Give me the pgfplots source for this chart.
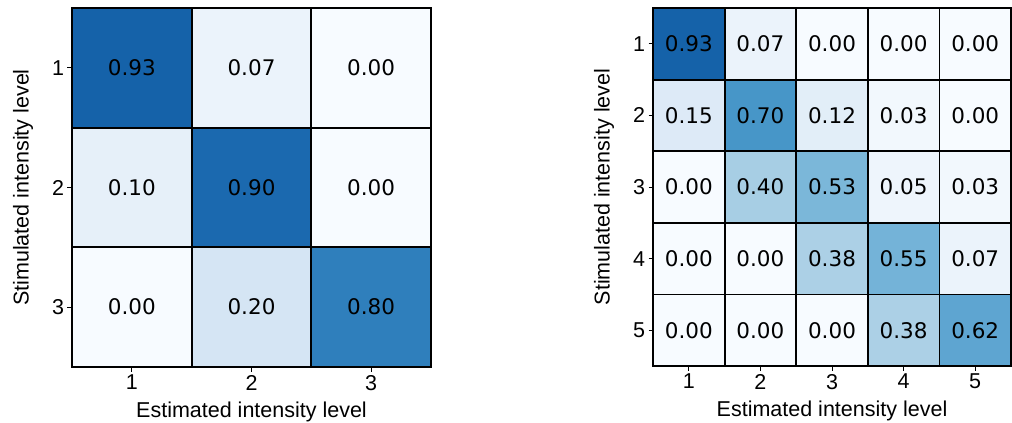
\documentclass[border=0pt]{standalone}
\usepackage{pgfplots}
\usepackage{pgfplotstable}
\pgfplotsset{compat=1.18}
\usepackage{fontspec}
\setmainfont{Liberation Sans}
\newfontfamily\dejavu{DejaVu Sans}

\pgfplotstableread{
x y c t
1 1 0.93 0.93
2 1 0.07 0.07
3 1 0.00 0.00
1 2 0.10 0.10
2 2 0.90 0.90
3 2 0.00 0.00
1 3 0.00 0.00
2 3 0.20 0.20
3 3 0.80 0.80
}\lefttab

\pgfplotstableread{
x y c t
1 1 0.93 0.93
2 1 0.07 0.07
3 1 0.00 0.00
4 1 0.00 0.00
5 1 0.00 0.00
1 2 0.15 0.15
2 2 0.70 0.70
3 2 0.12 0.12
4 2 0.03 0.03
5 2 0.00 0.00
1 3 0.00 0.00
2 3 0.40 0.40
3 3 0.53 0.53
4 3 0.05 0.05
5 3 0.03 0.03
1 4 0.00 0.00
2 4 0.00 0.00
3 4 0.38 0.38
4 4 0.55 0.55
5 4 0.07 0.07
1 5 0.00 0.00
2 5 0.00 0.00
3 5 0.00 0.00
4 5 0.38 0.38
5 5 0.62 0.62
}\righttab

\pgfplotsset{
  hm/.style={
    scale only axis,
    y dir=reverse,
    axis on top,
    colormap={blues}{rgb255(0cm)=(247,251,255) rgb255(1cm)=(222,235,247) rgb255(2cm)=(198,219,239) rgb255(3cm)=(158,202,225) rgb255(4cm)=(107,174,214) rgb255(5cm)=(66,146,198) rgb255(6cm)=(33,113,181) rgb255(7cm)=(8,81,156) rgb255(8cm)=(8,48,107)},
    point meta min=0, point meta max=1.15,
    tick pos=left, tick align=outside, major tick length=4.5pt,
    tick style={black, line width=1pt},
    axis line style={line width=1.6pt},
    /pgf/number format/assume math mode=true,
    tick label style={font=\fontsize{21.5}{25}\selectfont},
    label style={font=\fontsize{21.5}{25}\selectfont},
    xlabel={Estimated intensity level},
    ylabel={Stimulated intensity level},
    xlabel style={yshift=-5pt},
    ylabel style={yshift=12pt},
  },
  cells/.style={
    only marks, scatter, mark=square*, mark size=#1,
    scatter/use mapped color={draw=black, fill=mapped color, line width=1.8pt},
    every mark/.append style={line width=1.8pt},
  },
  txt/.style={
    draw=none, mark=none,
    point meta=explicit symbolic,
    nodes near coords={\dejavu\pgfplotspointmeta},
    every node near coord/.append style={anchor=center, xshift=0pt, yshift=0pt, black, font=\fontsize{21.5}{25}\selectfont},
  },
}

\begin{document}
\begin{tikzpicture}
\useasboundingbox (0,0) rectangle (1012pt,423pt);
\begin{axis}[hm, at={(72pt,56pt)}, anchor=south west,
  width=359pt, height=359pt,
  xmin=0.5, xmax=3.5, ymin=0.5, ymax=3.5,
  xtick={1,2,3}, ytick={1,2,3}]
\addplot[cells=59.83pt, point meta=explicit] table[x=x, y=y, meta=c] {\lefttab};
\addplot[txt] table[x=x, y=y, meta=t] {\lefttab};
\end{axis}
\begin{axis}[hm, at={(653pt,57pt)}, anchor=south west,
  width=358pt, height=358pt,
  xmin=0.5, xmax=5.5, ymin=0.5, ymax=5.5,
  xtick={1,2,3,4,5}, ytick={1,2,3,4,5}]
\addplot[cells=35.8pt, point meta=explicit] table[x=x, y=y, meta=c] {\righttab};
\addplot[txt] table[x=x, y=y, meta=t] {\righttab};
\end{axis}
\end{tikzpicture}
\end{document}
